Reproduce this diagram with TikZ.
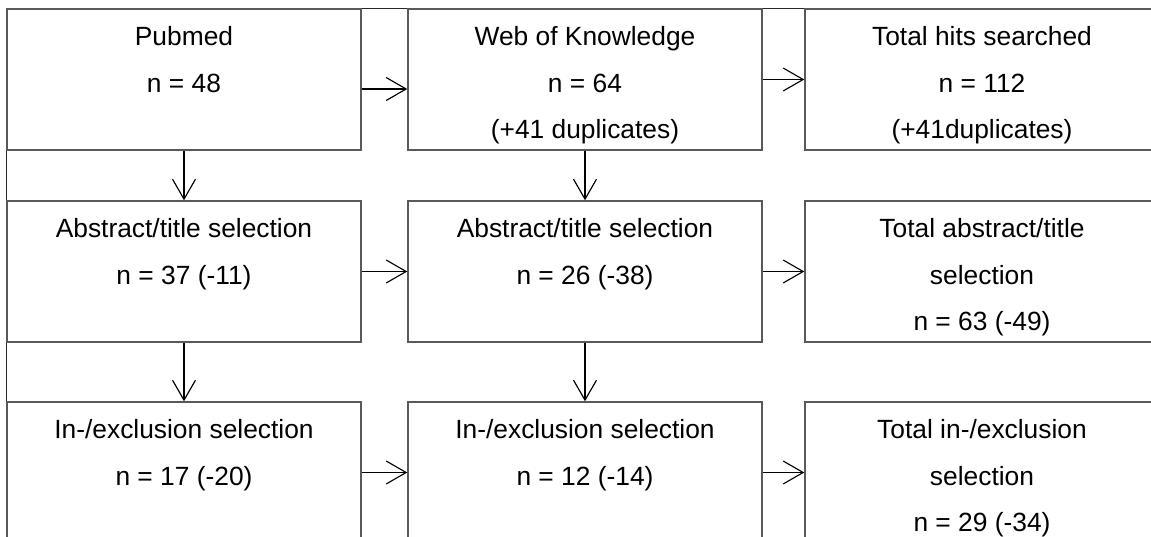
\documentclass[tikz,border=0pt]{standalone}
\usepackage{fontspec}
\setmainfont{Liberation Sans}
\usetikzlibrary{arrows.meta}
\usetikzlibrary{positioning}
\tikzstyle{line} = [draw, -{Straight Barb[length=0.4cm,width=0.46cm]}, line width=0.65pt]
\newcommand{\boxtext}[1]{\parbox[t][2.82cm][t]{7.08cm}{\centering\rule{0pt}{20.8pt}#1}}

\begin{document}
\begin{tikzpicture}[
		every node/.style={font=\fontsize{15pt}{26.5pt}\selectfont},
		block/.style={draw=black!65, line width=0.8pt, rectangle, inner sep=0pt,
			minimum width=7.08cm, minimum height=2.82cm}]
		\useasboundingbox (0,0) rectangle (23.02,-10.74);
		\clip (0,0) rectangle (23.02,-10.74);
		\draw [black!85, line width=1.1pt] (0.13,-10.8) -- (0.13,-0.17) -- (23.1,-0.17);
		\node [block] at (3.68,-1.59) (pubmed) {\boxtext{Pubmed\\ n = 48}};
		\node [block] at (11.70,-1.59) (wok) {\boxtext{Web of Knowledge\\ n = 64\\ (+41 duplicates)}};
		\node [block] at (19.64,-1.59) (hits) {\boxtext{Total hits searched\\ n = 112\\ (+41duplicates)}};
		\node [block] at (3.68,-5.43) (abspub) {\boxtext{Abstract/title selection\\ n = 37 (-11)}};
		\node [block] at (11.70,-5.43) (abswok) {\boxtext{Abstract/title selection\\ n = 26 (-38)}};
		\node [block] at (19.64,-5.43) (abstot) {\boxtext{Total abstract/title\\ selection\\ n = 63 (-49)}};
		\node [block] at (3.68,-9.45) (incpub) {\boxtext{In-/exclusion selection\\ n = 17 (-20)}};
		\node [block] at (11.70,-9.45) (incwok) {\boxtext{In-/exclusion selection\\ n = 12 (-14)}};
		\node [block] at (19.64,-9.45) (inctot) {\boxtext{Total in-/exclusion\\ selection\\ n = 29 (-34)}};
		%% Links
		\path [line] ([yshift=-0.19cm]pubmed.east) to ([yshift=-0.19cm]wok.west);
		\path [line] (wok) to (hits);
		\path [line] (pubmed) to (abspub);
		\path [line] (wok) to (abswok);
		\path [line] (abspub) to (abswok);
		\path [line] (abswok) to (abstot);
		\path [line] (abspub) to (incpub);
		\path [line] (abswok) to (incwok);
		\path [line] (incpub) to (incwok);
		\path [line] (incwok) to (inctot);
\end{tikzpicture}
\end{document}
